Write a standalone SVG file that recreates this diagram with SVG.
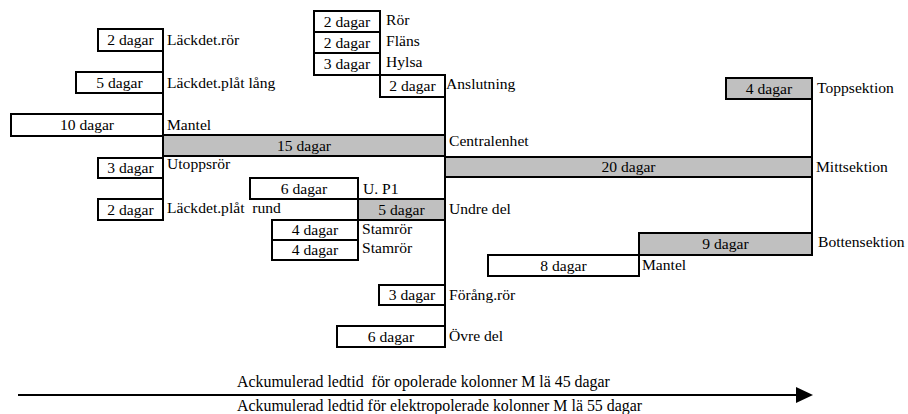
<svg xmlns="http://www.w3.org/2000/svg" width="908" height="414" viewBox="0 0 908 414">
  <style>
    text { font-family: 'Liberation Serif', 'Tinos', 'DejaVu Serif', serif; font-size: 15.6px; fill: #000; }
    .t { text-anchor: middle; }
    .axis-label { font-size: 15.9px; }
    .box { fill: #fff; stroke: #000; stroke-width: 2; }
    .hi { fill: #c0c0c0; stroke: #000; stroke-width: 2; }
    .link { stroke: #000; stroke-width: 2; fill: none; }
  </style>
  <defs>
    <marker id="arrowHead" markerWidth="17" markerHeight="16" refX="0" refY="8" orient="auto" markerUnits="userSpaceOnUse">
      <polygon points="0,0 17,8 0,16" fill="#000"/>
    </marker>
  </defs>

  <rect width="908" height="414" fill="#fff"/>

  <!-- connectors: vertical joins between stacked tasks -->
  <g id="connectors">
    <line class="link" x1="163" y1="29" x2="163" y2="220"/>
    <line class="link" x1="358" y1="178" x2="358" y2="260"/>
    <line class="link" x1="380" y1="11" x2="380" y2="75"/>
    <line class="link" x1="445" y1="75" x2="445" y2="347"/>
    <line class="link" x1="812" y1="78" x2="812" y2="255"/>
    <line class="link" x1="639" y1="233" x2="639" y2="276"/>
  </g>

  <g font-family="Liberation Serif, DejaVu Serif, serif">
  <!-- left branch: Centralenhet -->
  <g id="lackdet-ror">
    <rect class="box" x="98" y="29" width="65" height="22"/>
    <text class="t" x="130.5" y="45">2 dagar</text>
    <text x="167" y="45">Läckdet.rör</text>
  </g>
  <g id="lackdet-plat-lang">
    <rect class="box" x="76" y="72" width="87" height="21"/>
    <text class="t" x="119.5" y="88">5 dagar</text>
    <text x="167" y="88">Läckdet.plåt lång</text>
  </g>
  <g id="mantel-1">
    <rect class="box" x="11" y="114" width="152" height="22"/>
    <text class="t" x="87" y="130">10 dagar</text>
    <text x="167" y="130">Mantel</text>
  </g>
  <g id="centralenhet">
    <rect class="hi" x="163" y="135" width="282" height="21"/>
    <text class="t" x="304" y="151">15 dagar</text>
    <text x="449" y="146">Centralenhet</text>
  </g>
  <g id="utoppsror">
    <rect class="box" x="98" y="158" width="65" height="20"/>
    <text class="t" x="130.5" y="173">3 dagar</text>
    <text x="167" y="169">Utoppsrör</text>
  </g>
  <g id="lackdet-plat-rund">
    <rect class="box" x="98" y="199" width="65" height="21"/>
    <text class="t" x="130.5" y="215">2 dagar</text>
    <text x="167" y="213" xml:space="preserve">Läckdet.plåt  rund</text>
  </g>

  <!-- Anslutning chain -->
  <g id="ror">
    <rect class="box" x="314" y="11" width="66" height="21"/>
    <text class="t" x="347" y="27">2 dagar</text>
    <text x="386" y="25">Rör</text>
  </g>
  <g id="flans">
    <rect class="box" x="314" y="32" width="66" height="21"/>
    <text class="t" x="347" y="48">2 dagar</text>
    <text x="386" y="46">Fläns</text>
  </g>
  <g id="hylsa">
    <rect class="box" x="314" y="53" width="66" height="22"/>
    <text class="t" x="347" y="69">3 dagar</text>
    <text x="386" y="67">Hylsa</text>
  </g>
  <g id="anslutning">
    <rect class="box" x="380" y="75" width="65" height="22"/>
    <text class="t" x="412.5" y="91">2 dagar</text>
    <text x="446" y="89">Anslutning</text>
  </g>

  <!-- Undre del chain -->
  <g id="u-p1">
    <rect class="box" x="250" y="178" width="108" height="21"/>
    <text class="t" x="304" y="194">6 dagar</text>
    <text x="363" y="194">U. P1</text>
  </g>
  <g id="undre-del">
    <rect class="hi" x="358" y="199" width="87" height="21"/>
    <text class="t" x="401.5" y="215">5 dagar</text>
    <text x="449" y="214">Undre del</text>
  </g>
  <g id="stamror-1">
    <rect class="box" x="272" y="220" width="86" height="20"/>
    <text class="t" x="315" y="235">4 dagar</text>
    <text x="362" y="234">Stamrör</text>
  </g>
  <g id="stamror-2">
    <rect class="box" x="272" y="240" width="86" height="20"/>
    <text class="t" x="315" y="255">4 dagar</text>
    <text x="362" y="253">Stamrör</text>
  </g>
  <g id="forang-ror">
    <rect class="box" x="379" y="285" width="66" height="20"/>
    <text class="t" x="412" y="300">3 dagar</text>
    <text x="449" y="300">Förång.rör</text>
  </g>
  <g id="ovre-del">
    <rect class="box" x="337" y="326" width="108" height="21"/>
    <text class="t" x="391" y="342">6 dagar</text>
    <text x="449" y="341">Övre del</text>
  </g>

  <!-- right branch: sections -->
  <g id="mittsektion">
    <rect class="hi" x="445" y="157" width="367" height="20"/>
    <text class="t" x="628.5" y="172">20 dagar</text>
    <text x="816" y="172">Mittsektion</text>
  </g>
  <g id="toppsektion">
    <rect class="hi" x="726" y="78" width="86" height="21"/>
    <text class="t" x="769" y="94">4 dagar</text>
    <text x="817" y="93">Toppsektion</text>
  </g>
  <g id="bottensektion">
    <rect class="hi" x="639" y="233" width="173" height="22"/>
    <text class="t" x="725.5" y="249">9 dagar</text>
    <text x="818" y="247">Bottensektion</text>
  </g>
  <g id="mantel-2">
    <rect class="box" x="488" y="255" width="151" height="21"/>
    <text class="t" x="563.5" y="271">8 dagar</text>
    <text x="642" y="270">Mantel</text>
  </g>

  <!-- cumulative lead-time axis -->
  <g id="axis">
    <line x1="18" y1="395" x2="796" y2="395" stroke="#000" stroke-width="2" marker-end="url(#arrowHead)"/>
    <text class="axis-label" x="237" y="387" xml:space="preserve">Ackumulerad ledtid  för opolerade kolonner M lä 45 dagar</text>
    <text class="axis-label" x="237" y="411">Ackumulerad ledtid för elektropolerade kolonner M lä 55 dagar</text>
  </g>
  </g>
</svg>
